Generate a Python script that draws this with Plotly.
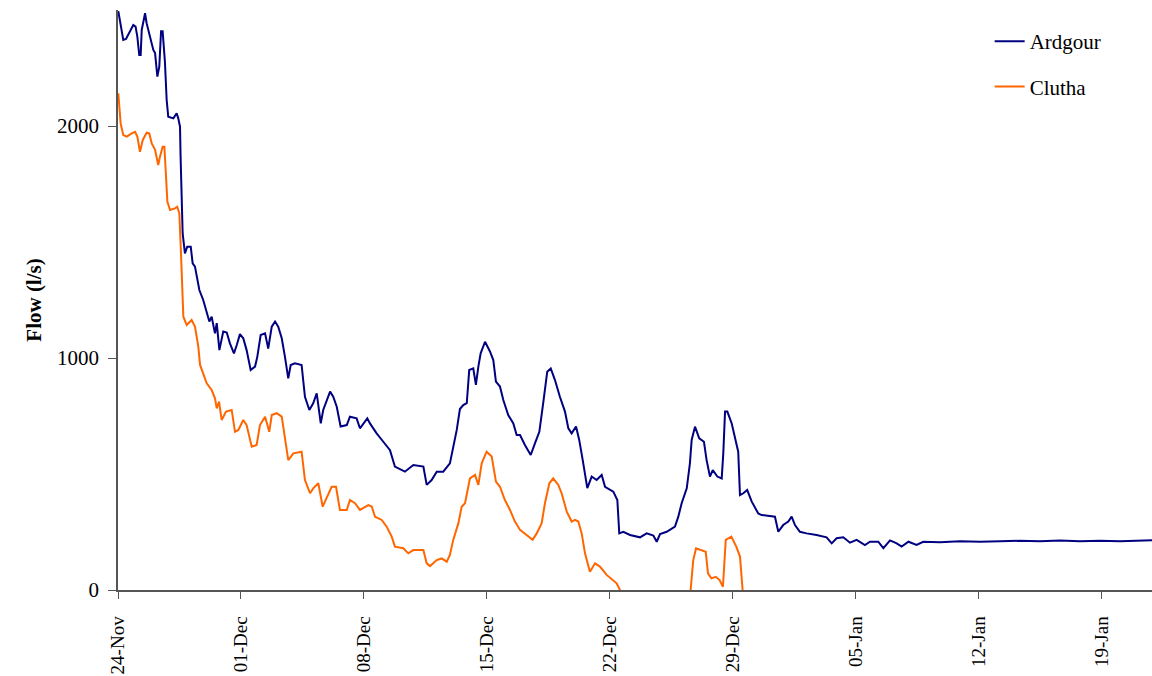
import pandas as pd
import plotly.graph_objects as go

START = pd.Timestamp("2006-11-24")

# Days after 24-Nov and flow values (l/s)
ardgour_day = [0.017, 0.30, 0.455, 0.87, 1.0, 1.10, 1.21, 1.29, 1.35, 1.54, 1.63, 1.82, 2.01, 2.11,
               2.24, 2.35, 2.45, 2.54, 2.67, 2.77, 2.86, 3.15, 3.34, 3.43, 3.53, 3.56, 3.63, 3.68,
               3.81, 3.94, 4.14, 4.25, 4.38, 4.51, 4.63, 4.85, 5.01, 5.20, 5.33, 5.52, 5.62, 5.77,
               5.99, 6.19, 6.37, 6.60, 6.76, 6.94, 7.13, 7.32, 7.55, 7.80, 7.93, 8.12, 8.37, 8.55,
               8.75, 8.94, 9.12, 9.32, 9.50, 9.69, 9.83, 10.07, 10.45, 10.64, 10.89, 11.11, 11.31,
               11.54, 11.68, 12.07, 12.25, 12.45, 12.67, 13.02, 13.20, 13.58, 13.77, 14.19, 14.34,
               14.72, 15.10, 15.48, 15.76, 16.33, 16.81, 17.38, 17.57, 17.85, 18.14, 18.51, 18.89,
               19.08, 19.28, 19.46, 19.65, 19.85, 19.99, 20.22, 20.37, 20.51, 20.64, 20.89, 21.17,
               21.36, 21.51, 21.74, 21.93, 22.21, 22.50, 22.69, 22.88, 23.16, 23.49, 23.73, 23.98,
               24.20, 24.43, 24.63, 24.87, 25.15, 25.44, 25.63, 25.82, 26.07, 26.25, 26.45, 26.71,
               26.96, 27.24, 27.53, 27.72, 28.19, 28.42, 28.53, 28.76, 29.14, 29.71, 30.09, 30.47,
               30.66, 30.85, 31.23, 31.70, 31.89, 32.08, 32.37, 32.55, 32.65, 32.84, 33.08, 33.35,
               33.50, 33.69, 33.85, 34.11, 34.36, 34.45, 34.55, 34.68, 34.93, 35.11, 35.30, 35.40,
               35.59, 35.81, 36.07, 36.44, 36.63, 37.39, 37.58, 37.86, 38.15, 38.34, 38.53, 38.81,
               39.19, 39.76, 40.33, 40.62, 40.90, 41.28, 41.66, 42.04, 42.51, 42.80, 43.27, 43.56,
               43.94, 44.32, 44.60, 44.99, 45.45, 45.83, 46.78, 47.92, 49.06, 50.20, 51.33, 52.47,
               53.61, 54.75, 55.89, 57.03, 58.16, 58.85]
ardgour_flow = [2495, 2371, 2375, 2435, 2428, 2385, 2306, 2306, 2414, 2486, 2443, 2385, 2328, 2314,
                2213, 2256, 2408, 2408, 2278, 2112, 2040, 2033, 2055, 2033, 1997, 1875, 1681, 1537,
                1451, 1480, 1480, 1408, 1394, 1336, 1293, 1250, 1207, 1157, 1178, 1106, 1150, 1034,
                1114, 1110, 1063, 1020, 1056, 1103, 1085, 1034, 948, 963, 1006, 1099, 1106, 1041,
                1135, 1157, 1135, 1085, 1006, 912, 970, 977, 970, 833, 776, 805, 848,
                718, 776, 855, 833, 790, 705, 711, 747, 740, 697, 740, 718,
                675, 639, 603, 532, 510, 539, 532, 453, 474, 510, 510, 546,
                618, 690, 780, 797, 805, 948, 955, 884, 963, 1020, 1070, 1028,
                991, 898, 877, 819, 754, 718, 668, 668, 625, 582, 632, 682,
                805, 941, 955, 905, 833, 769, 697, 675, 705, 647, 560, 439,
                489, 474, 496, 445, 424, 388, 244, 251, 237, 227, 244, 235,
                208, 241, 251, 273, 316, 374, 438, 546, 647, 704, 654, 639,
                560, 489, 517, 489, 481, 589, 769, 769, 718, 654, 596, 409,
                417, 431, 381, 330, 323, 316, 251, 280, 295, 316, 280, 251,
                244, 237, 227, 201, 223, 227, 204, 216, 194, 208, 208, 180,
                214, 201, 187, 208, 194, 208, 206, 210, 208, 210, 212, 210,
                213, 210, 212, 210, 212, 214]

clutha_day = [0.017, 0.07, 0.15, 0.30, 0.50, 0.78, 0.97, 1.10, 1.25, 1.41, 1.63, 1.78, 1.92, 2.11,
              2.29, 2.39, 2.54, 2.64, 2.73, 2.81, 2.96, 3.24, 3.37, 3.49, 3.57, 3.63, 3.72, 3.91,
              4.19, 4.38, 4.57, 4.67, 4.85, 5.05, 5.33, 5.52, 5.62, 5.75, 5.90, 6.15, 6.47, 6.66,
              6.85, 7.13, 7.32, 7.61, 7.89, 8.08, 8.37, 8.61, 8.75, 9.03, 9.32, 9.50, 9.69, 9.98,
              10.45, 10.64, 10.93, 11.11, 11.40, 11.65, 11.88, 12.16, 12.41, 12.63, 13.02, 13.20,
              13.49, 13.77, 14.25, 14.44, 14.63, 15.01, 15.29, 15.58, 15.76, 16.24, 16.52, 16.81,
              17.38, 17.57, 17.76, 18.14, 18.42, 18.71, 18.89, 19.08, 19.37, 19.56, 19.75, 20.03,
              20.32, 20.51, 20.70, 20.98, 21.27, 21.51, 21.74, 22.02, 22.31, 22.59, 22.88, 23.26,
              23.60, 23.83, 24.11, 24.30, 24.55, 24.77, 25.06, 25.25, 25.54, 25.82, 26.01, 26.20,
              26.39, 26.58, 26.86, 27.15, 27.43, 27.81, 28.19, 28.38, 28.57, 28.90, 29.50, 30.50,
              31.50, 32.20, 32.59, 32.74, 32.90, 33.22, 33.45, 33.58, 33.77, 34.02, 34.24, 34.43,
              34.59, 34.91, 35.19, 35.40, 35.49, 35.55, 36.00]
clutha_flow = [2141, 2098, 2011, 1961, 1954, 1968, 1975, 1954, 1889, 1940, 1971, 1968, 1925, 1897,
               1832, 1868, 1911, 1911, 1796, 1674, 1638, 1645, 1652, 1624, 1480, 1329, 1178, 1142,
               1164, 1135, 1049, 970, 934, 891, 862, 826, 783, 812, 733, 769, 776, 682,
               690, 733, 711, 618, 625, 711, 747, 682, 754, 762, 747, 647, 560, 589,
               596, 474, 417, 438, 460, 359, 395, 445, 445, 345, 345, 388,
               374, 345, 366, 360, 316, 302, 273, 230, 187, 180, 158, 172,
               172, 115, 103, 129, 136, 122, 151, 216, 287, 359, 374, 481,
               496, 453, 546, 596, 575, 467, 445, 388, 345, 295, 259, 237,
               216, 244, 287, 374, 460, 481, 453, 417, 338, 295, 302, 295,
               244, 158, 79, 115, 101, 65, 43, 29, 0, -60, -90, -100,
               -90, -60, 0, 129, 180, 172, 165, 72, 50, 57, 43, 14,
               216, 230, 187, 144, 43, 0, -80]

y_ticks = [0, 1000, 2000]
x_end_day = 58.85

def to_dates(days):
    return START + pd.to_timedelta(days, unit="D")

SERIF = "Liberation Serif, Times New Roman, serif"

fig = go.Figure()
fig.add_trace(go.Scatter(x=to_dates(ardgour_day), y=ardgour_flow, mode="lines", name="Ardgour",
                         legendgroup="a", line=dict(color="#000080", width=2)))
fig.add_trace(go.Scatter(x=to_dates(clutha_day), y=clutha_flow, mode="lines", name="Clutha",
                         legendgroup="c", line=dict(color="#FF6600", width=2)))

fig.update_layout(
    width=1152, height=676,
    margin=dict(l=118, r=0, t=10, b=86),
    paper_bgcolor="white", plot_bgcolor="white",
    font=dict(family=SERIF, size=19, color="black"),
    showlegend=True,
    legend=dict(x=0.843, y=0.981, xanchor="left", yanchor="top", bgcolor="rgba(0,0,0,0)",
                font=dict(family=SERIF, size=21), tracegroupgap=15),
)
fig.update_xaxes(
    type="date", range=[START, START + pd.Timedelta(days=x_end_day)],
    tick0=START, dtick=7 * 86400000, tickformat="%d-%b", tickangle=-90,
    showline=True, linecolor="#555", linewidth=1.5, ticks="outside", ticklen=7,
    tickcolor="#555", showgrid=False, zeroline=False, automargin=False,
    ticklabelstandoff=10,
    tickfont=dict(family=SERIF, size=19),
)
fig.update_yaxes(
    range=[0, 2500], tickvals=y_ticks, showline=True, linecolor="#555", linewidth=1.5,
    ticks="outside", ticklen=8, tickcolor="#555", showgrid=False, zeroline=False,
    automargin=False, ticklabelstandoff=5,
    tickfont=dict(family=SERIF, size=21),
    title=dict(text="<b>Flow (l/s)</b>", font=dict(family=SERIF, size=21), standoff=10),
)

fig.write_html(
    "out.html",
    config={"displayModeBar": False},
    post_script="document.body.style.margin='0';document.body.style.overflow='hidden';",
)
